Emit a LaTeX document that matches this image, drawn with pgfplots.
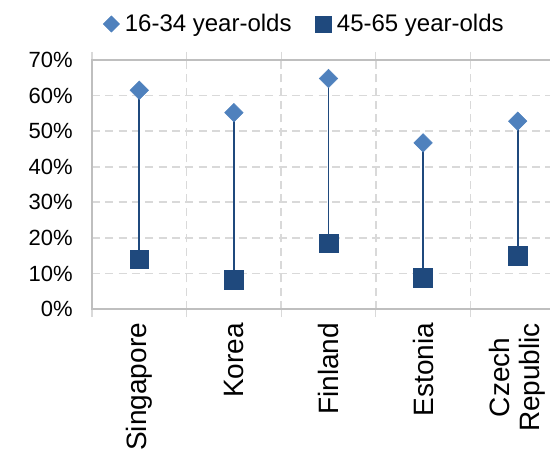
\documentclass[border=0pt]{standalone}
\usepackage{fontspec}
\setmainfont{Liberation Sans}
\usepackage{pgfplots}
\pgfplotsset{compat=1.18}
\definecolor{lightblue}{HTML}{4F81BD}
\definecolor{navy}{HTML}{1F497D}
\definecolor{gridgray}{HTML}{D9D9D9}
\definecolor{axisgray}{HTML}{BFBFBF}

\begin{document}
\begin{tikzpicture}
% page = 550 x 450 px at 0.75pt per px
\useasboundingbox (0pt,0pt) rectangle (412.5pt,337.5pt);
\begin{axis}[
    at={(69pt,105.75pt)}, anchor=south west,
    scale only axis,
    width=354.75pt, height=186.75pt,
    xmin=0.5, xmax=5.5,
    ymin=0, ymax=70,
    ytick={0,10,...,70},
    yticklabel={\pgfmathprintnumber{\tick}\%},
    /pgf/number format/assume math mode=true,
    y tick label style={font=\fontsize{16.5}{19}\selectfont, xshift=-11pt},
    xtick={1,...,5},
    xticklabels={Singapore,Korea,Finland,Estonia,{Czech\\Republic}},
    x tick label style={yshift=-7pt, rotate=90, anchor=east, align=center,
        font=\fontsize{21}{22.5}\selectfont},
    minor xtick={0.5,1.5,...,5.5},
    tick align=outside,
    major tick length=0pt,
    minor tick length=6pt,
    minor tick style={draw=gridgray, line width=1pt},
    ymajorgrids, xminorgrids,
    major grid style={draw=gridgray, line width=1.2pt, dash pattern=on 6pt off 4pt},
    minor grid style={draw=gridgray, line width=1.2pt, dash pattern=on 6pt off 4pt},
    axis line style={draw=axisgray, line width=1.3pt},
    legend columns=2,
    legend style={at={(0.45,1.1446)}, anchor=center, draw=none, fill=none,
        font=\fontsize{18}{21}\selectfont, column sep=2pt,
        /tikz/every even column/.append style={column sep=16pt}},
    legend image code/.code={\draw[#1] plot coordinates {(0pt,0pt)};},
]
% connecting lines
\addplot[forget plot, navy, line width=1.4pt, unbounded coords=jump] coordinates {
    (1,14.0) (1,61.5) (1,nan)
    (2,8.2) (2,55.2) (2,nan)
    (3,18.5) (3,64.8) (3,nan)
    (4,8.7) (4,46.7) (4,nan)
    (5,15.0) (5,52.8)
};
\addplot[only marks, mark=square*, mark size=4.9pt,
    mark options={rotate=45, fill=lightblue, draw=lightblue},
    legend image post style={mark size=4.3pt}] coordinates {
    (1,61.5) (2,55.2) (3,64.8) (4,46.7) (5,52.8)
};
\addplot[only marks, mark=square*, mark size=7pt,
    mark options={fill=navy, draw=navy},
    legend image post style={mark size=6pt}] coordinates {
    (1,14.0) (2,8.2) (3,18.5) (4,8.7) (5,15.0)
};
\legend{16-34 year-olds, 45-65 year-olds}
\end{axis}
\end{tikzpicture}
\end{document}
